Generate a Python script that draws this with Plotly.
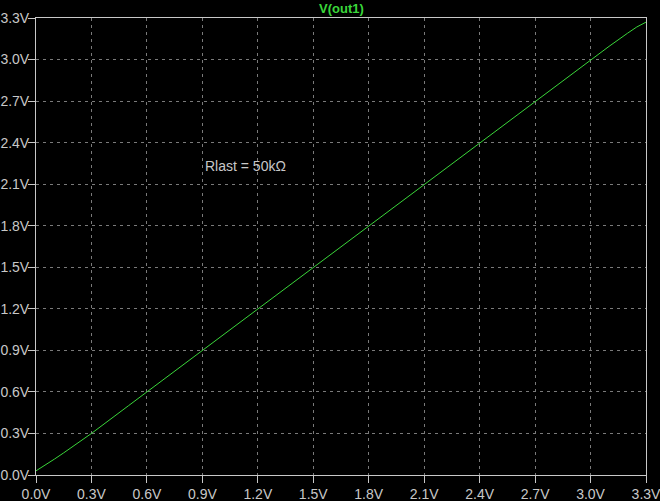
import plotly.graph_objects as go

# Data (input sweep vs. V(out1))
vin = [0.0, 0.05, 0.1, 0.15, 0.2, 0.25, 0.3, 0.5, 1.0, 1.5, 2.0, 2.5, 3.0, 3.1, 3.2, 3.25, 3.3]
vout = [0.03, 0.07, 0.115, 0.16, 0.205, 0.252, 0.30, 0.50, 1.0, 1.5, 2.0, 2.5, 3.0, 3.095, 3.19, 3.235, 3.27]

tick_vals = [0.0, 0.3, 0.6, 0.9, 1.2, 1.5, 1.8, 2.1, 2.4, 2.7, 3.0, 3.3]
tick_text = ["%.1fV" % v for v in tick_vals]

trace_name = "V(out1)"
note_text = "Rlast = 50kΩ"

GREEN = "#3ad63a"
GRAY = "#c8c8c8"
GRID = "#7a7a7a"
FONT = "Liberation Sans, Arial, sans-serif"

fig = go.Figure()
fig.add_trace(go.Scatter(x=vin, y=vout, mode="lines", name=trace_name,
                         line=dict(color=GREEN, width=1), hoverinfo="skip"))

axis_common = dict(
    range=[0, 3.3], tickvals=tick_vals, ticktext=tick_text,
    showline=True, linecolor=GRAY, linewidth=1, mirror=True,
    ticks="outside", ticklen=7, tickcolor=GRAY, tickwidth=1,
    showgrid=True, gridcolor=GRID, gridwidth=1, griddash="3px,4px",
    zeroline=False, tickfont=dict(family=FONT, size=14, color=GRAY),
    fixedrange=True, automargin=False, ticklabeloverflow="allow",
)

fig.update_layout(
    width=660, height=501,
    margin=dict(l=36, r=14, t=18, b=26, autoexpand=False),
    paper_bgcolor="black", plot_bgcolor="black",
    showlegend=False,
    xaxis=dict(**axis_common, ticklabelstandoff=-1),
    yaxis=dict(**axis_common, ticklabelstandoff=-4),
    annotations=[
        dict(text="<b>" + trace_name + "</b>", x=0.5, xref="paper", y=1.0, yref="paper",
             yanchor="bottom", yshift=0, showarrow=False,
             font=dict(family=FONT, size=13, color=GREEN)),
        dict(text=note_text, x=0.905, y=2.23, xref="x", yref="y", xanchor="left",
             yanchor="middle", showarrow=False,
             font=dict(family=FONT, size=14, color=GRAY)),
    ],
)

fig.write_html("out.html", config={"displayModeBar": False},
               post_script="document.body.style.margin='0';document.body.style.background='black';")
